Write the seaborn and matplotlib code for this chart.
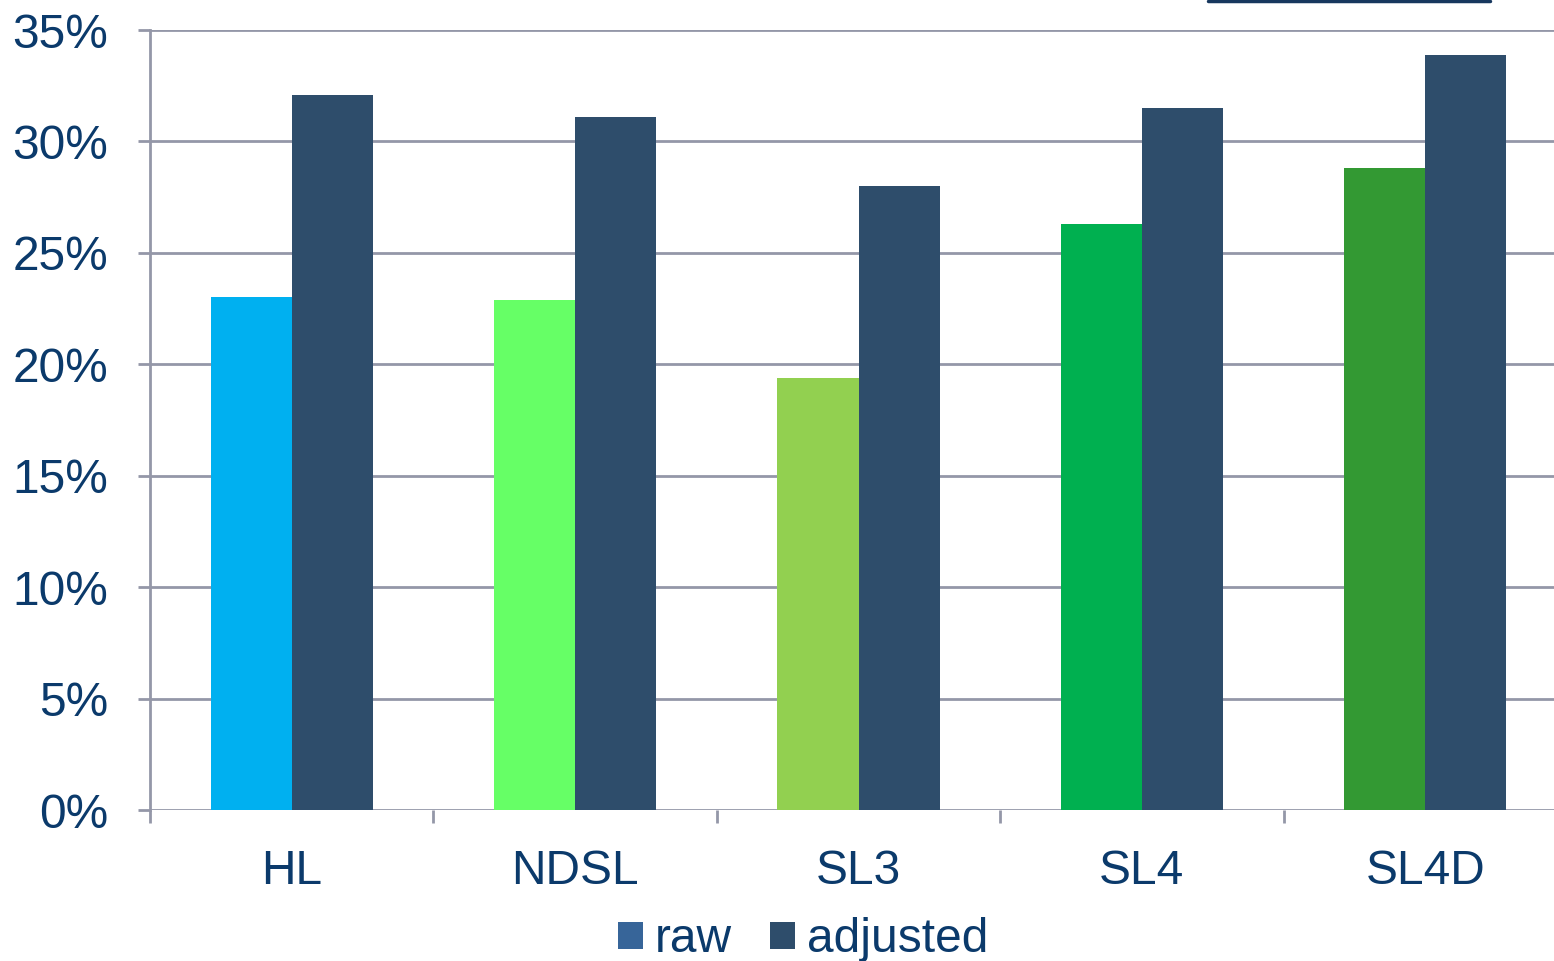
import matplotlib
matplotlib.use("Agg")
import matplotlib.pyplot as plt
from matplotlib.lines import Line2D
from matplotlib.ticker import FixedLocator, FuncFormatter
import pandas as pd
import seaborn as sns

# Data
categories = ["HL", "NDSL", "SL3", "SL4", "SL4D"]
raw = [23.0, 22.9, 19.4, 26.3, 28.8]
adjusted = [32.1, 31.1, 28.0, 31.5, 33.9]
raw_colors = ["#00B0F0", "#66FF66", "#92D050", "#00B050", "#339933"]
series_names = ["raw", "adjusted"]
y_ticks = [0, 5, 10, 15, 20, 25, 30, 35]

TEXT = "#0B3A6B"
GRID = "#9497A8"

df = pd.DataFrame({
    "category": categories * 2,
    "series": ["raw"] * len(categories) + ["adjusted"] * len(categories),
    "value": raw + adjusted,
})

sns.set_theme(style="white")
plt.rcParams["font.family"] = ["Liberation Sans", "DejaVu Sans"]

fig = plt.figure(figsize=(15.54, 9.61), dpi=100)
ax = fig.add_axes([150 / 1554, (961 - 810) / 961, (1567 - 150) / 1554, 780 / 961])

sns.barplot(
    data=df, x="category", y="value", hue="series", hue_order=series_names,
    order=categories, palette={"raw": "#376599", "adjusted": "#2E4D6B"},
    width=0.572, saturation=1, linewidth=0, ax=ax, legend=False, zorder=3,
)

# Per-category colours for the raw bars
raw_container = ax.containers[0]
for patch, c in zip(raw_container.patches, raw_colors):
    patch.set_facecolor(c)

ax.set_xlim(-0.5, len(categories) - 0.5)
ax.set_ylim(0, 35)
ax.yaxis.set_major_locator(FixedLocator(y_ticks))
ax.yaxis.set_major_formatter(FuncFormatter(lambda v, p: f"{v:.0f}%"))
ax.grid(axis="y", color=GRID, linewidth=2, zorder=0)
ax.set_axisbelow(True)

for side in ["top", "right", "bottom"]:
    ax.spines[side].set_visible(False)
ax.spines["left"].set_color(GRID)
ax.spines["left"].set_linewidth(2)

ax.tick_params(axis="y", which="major", left=True, length=9, width=2, color=GRID,
               direction="out", pad=21, labelsize=34.5, labelcolor=TEXT)
ax.xaxis.set_minor_locator(FixedLocator([i - 0.5 for i in range(len(categories) + 1)]))
ax.tick_params(axis="x", which="minor", bottom=True, length=9, width=2, color=GRID,
               direction="out")
ax.tick_params(axis="x", which="major", bottom=False, length=0, pad=28,
               labelsize=34.5, labelcolor=TEXT)
ax.set_xlabel("")
ax.set_ylabel("")

# Legend
handles = [
    plt.Rectangle((0, 0), 1, 1, facecolor="#376599", edgecolor="none"),
    plt.Rectangle((0, 0), 1, 1, facecolor="#2E4D6B", edgecolor="none"),
]
leg = fig.legend(
    handles, series_names, loc="center", bbox_to_anchor=(803 / 1554, 1 - 940 / 961),
    ncol=2, frameon=False, fontsize=34.5, handlelength=0.52, handleheight=0.52,
    handletextpad=0.25, columnspacing=0.8, borderpad=0, borderaxespad=0,
)
for t in leg.get_texts():
    t.set_color(TEXT)

# Rule along the top edge
fig.add_artist(Line2D([1208 / 1554, 1490 / 1554], [1 - 1 / 961, 1 - 1 / 961],
                      transform=fig.transFigure, color="#17375E", linewidth=2.5))

fig.savefig("out.png", dpi=100)
